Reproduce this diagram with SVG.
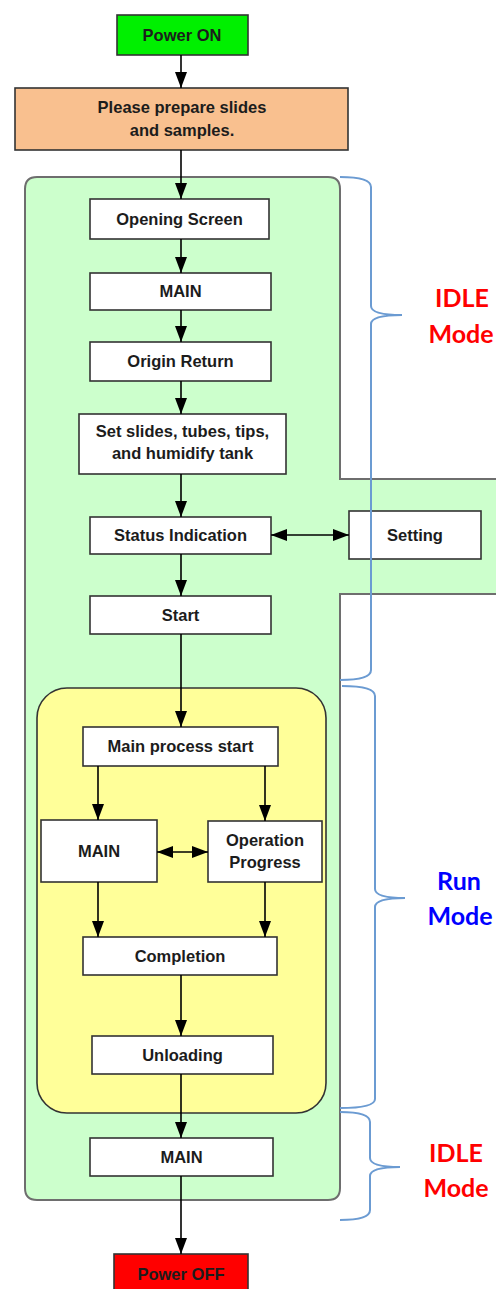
<svg xmlns="http://www.w3.org/2000/svg" width="496" height="1289" viewBox="0 0 496 1289">
  <defs>
    <style>
      .box { fill: #ffffff; stroke: #333333; stroke-width: 1.6; }
      .lbl { font-family: "Liberation Sans", Arial, sans-serif; font-weight: bold; font-size: 16.5px; fill: #1c1c1c; text-anchor: middle; }
      .mode { font-family: Lato, "Liberation Sans", sans-serif; font-weight: bold; font-size: 25px; text-anchor: middle; }
      .idle { fill: #ff0000; }
      .run { fill: #0000ff; }
      .wire { stroke: #000000; stroke-width: 1.6; fill: none; }
      .brace { stroke: #6b9bd2; stroke-width: 2; fill: none; }
    </style>
    <marker id="head" markerUnits="userSpaceOnUse" markerWidth="17" markerHeight="12" refX="16" refY="6" orient="auto-start-reverse">
      <path d="M0,0 L16,6 L0,12 Z" fill="#000000"/>
    </marker>
  </defs>

  <!-- idle-mode region with the side extension for Setting -->
  <path id="idle-region" d="M37,177 H328 Q340,177 340,189 V479 H500 V594 H340 V1188 Q340,1200 328,1200 H37 Q25,1200 25,1188 V189 Q25,177 37,177 Z" fill="#ccffcc" stroke="#6e6e6e" stroke-width="2"/>

  <!-- run-mode region -->
  <rect id="run-region" x="37" y="688" width="289" height="425" rx="30" ry="30" fill="#ffff99" stroke="#333333" stroke-width="1.6"/>

  <g id="power-on">
    <rect x="117" y="15" width="131" height="40" fill="#00f000" stroke="#333333" stroke-width="1.6"/>
    <text class="lbl" x="182" y="41">Power ON</text>
  </g>
  <g id="prepare">
    <rect x="15" y="88" width="333" height="62" fill="#f9c08f" stroke="#333333" stroke-width="1.6"/>
    <text class="lbl" x="182" y="113">Please prepare slides</text>
    <text class="lbl" x="182" y="136">and samples.</text>
  </g>
  <g id="opening-screen">
    <rect class="box" x="90" y="199" width="179" height="40"/>
    <text class="lbl" x="179.5" y="225">Opening Screen</text>
  </g>
  <g id="main-1">
    <rect class="box" x="90" y="273" width="181" height="37"/>
    <text class="lbl" x="180.5" y="297">MAIN</text>
  </g>
  <g id="origin-return">
    <rect class="box" x="90" y="342" width="181" height="39"/>
    <text class="lbl" x="180.5" y="367">Origin Return</text>
  </g>
  <g id="set-slides">
    <rect class="box" x="79" y="414" width="207" height="60"/>
    <text class="lbl" x="182.5" y="437">Set slides, tubes, tips,</text>
    <text class="lbl" x="182.5" y="459">and humidify  tank</text>
  </g>
  <g id="status-indication">
    <rect class="box" x="90" y="517" width="181" height="37"/>
    <text class="lbl" x="180.5" y="541">Status Indication</text>
  </g>
  <g id="setting">
    <rect class="box" x="349" y="511" width="132" height="48"/>
    <text class="lbl" x="415" y="541">Setting</text>
  </g>
  <g id="start">
    <rect class="box" x="90" y="596" width="181" height="38"/>
    <text class="lbl" x="180.5" y="621">Start</text>
  </g>
  <g id="main-process-start">
    <rect class="box" x="83" y="727" width="195" height="39"/>
    <text class="lbl" x="180.5" y="752">Main process start</text>
  </g>
  <g id="main-run">
    <rect class="box" x="41" y="820" width="116" height="62"/>
    <text class="lbl" x="99" y="857">MAIN</text>
  </g>
  <g id="operation-progress">
    <rect class="box" x="208" y="821" width="114" height="61"/>
    <text class="lbl" x="265" y="846">Operation</text>
    <text class="lbl" x="265" y="868">Progress</text>
  </g>
  <g id="completion">
    <rect class="box" x="83" y="937" width="194" height="38"/>
    <text class="lbl" x="180" y="962">Completion</text>
  </g>
  <g id="unloading">
    <rect class="box" x="92" y="1036" width="181" height="38"/>
    <text class="lbl" x="182.5" y="1061">Unloading</text>
  </g>
  <g id="main-2">
    <rect class="box" x="90" y="1138" width="183" height="38"/>
    <text class="lbl" x="181.5" y="1163">MAIN</text>
  </g>
  <g id="power-off">
    <rect x="114" y="1254" width="134" height="45" fill="#ff0000" stroke="#333333" stroke-width="1.6"/>
    <text class="lbl" x="181" y="1280">Power OFF</text>
  </g>

  <g id="connectors">
    <line class="wire" x1="181" y1="55" x2="181" y2="88" marker-end="url(#head)"/>
    <line class="wire" x1="181" y1="150" x2="181" y2="199" marker-end="url(#head)"/>
    <line class="wire" x1="181" y1="239" x2="181" y2="273" marker-end="url(#head)"/>
    <line class="wire" x1="181" y1="310" x2="181" y2="342" marker-end="url(#head)"/>
    <line class="wire" x1="181" y1="381" x2="181" y2="414" marker-end="url(#head)"/>
    <line class="wire" x1="181" y1="474" x2="181" y2="517" marker-end="url(#head)"/>
    <line class="wire" x1="181" y1="554" x2="181" y2="596" marker-end="url(#head)"/>
    <line class="wire" x1="271" y1="535" x2="349" y2="535" marker-start="url(#head)" marker-end="url(#head)"/>
    <line class="wire" x1="181" y1="634" x2="181" y2="727" marker-end="url(#head)"/>
    <line class="wire" x1="98" y1="766" x2="98" y2="820" marker-end="url(#head)"/>
    <line class="wire" x1="265" y1="766" x2="265" y2="821" marker-end="url(#head)"/>
    <line class="wire" x1="157" y1="852" x2="208" y2="852" marker-start="url(#head)" marker-end="url(#head)"/>
    <line class="wire" x1="98" y1="882" x2="98" y2="937" marker-end="url(#head)"/>
    <line class="wire" x1="265" y1="882" x2="265" y2="937" marker-end="url(#head)"/>
    <line class="wire" x1="181" y1="975" x2="181" y2="1036" marker-end="url(#head)"/>
    <line class="wire" x1="181" y1="1074" x2="181" y2="1138" marker-end="url(#head)"/>
    <line class="wire" x1="181" y1="1176" x2="181" y2="1254" marker-end="url(#head)"/>
  </g>

  <!-- braces marking the mode spans -->
  <g id="braces">
    <path class="brace" d="M340,177 Q371,177 371,187 V306 Q371,315 402,315 Q371,315 371,324 V670 Q371,680 340,680"/>
    <path class="brace" d="M342,686 Q375,686 375,696 V889 Q375,898 405,898 Q375,898 375,907 V1099 Q375,1108 340,1108"/>
    <path class="brace" d="M340,1112 Q370,1112 370,1122 V1158 Q370,1167 400,1167 Q370,1167 370,1176 V1210 Q370,1220 340,1220"/>
  </g>

  <g id="mode-labels">
    <text class="mode idle" x="462" y="307">IDLE</text>
    <text class="mode idle" x="461" y="343">Mode</text>
    <text class="mode run" x="459" y="890">Run</text>
    <text class="mode run" x="460" y="925">Mode</text>
    <text class="mode idle" x="456" y="1162">IDLE</text>
    <text class="mode idle" x="456" y="1197">Mode</text>
  </g>
</svg>
